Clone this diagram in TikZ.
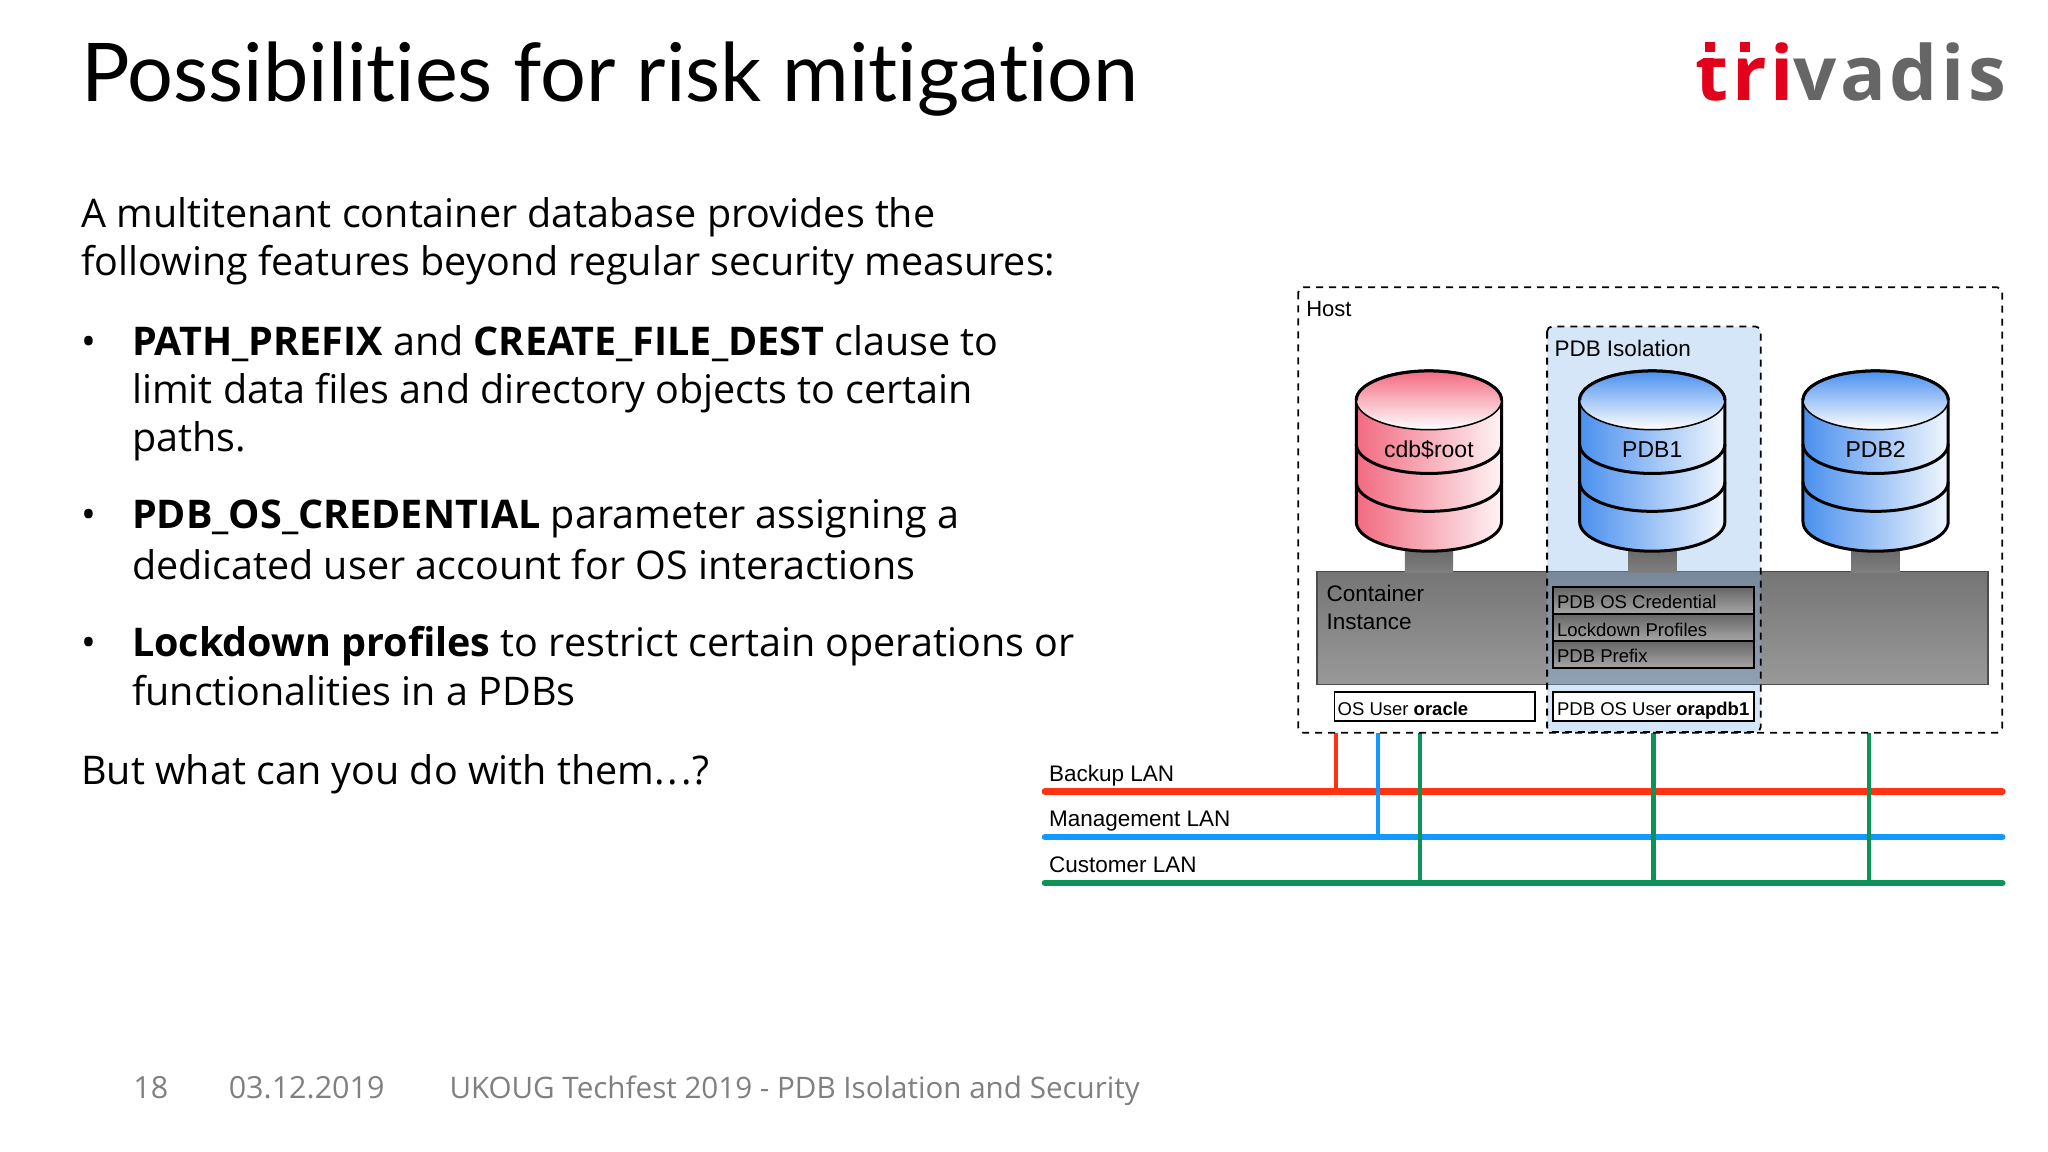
\documentclass[tikz,border=0pt]{standalone}
\usepackage{xcolor}
\usepackage{fontspec}
\usetikzlibrary{positioning,calc}
\setmainfont{Open Sans}
\newfontfamily\titlefont[Ligatures=NoCommon]{Lato}
\newfontfamily\logofont[LetterSpace=4.7]{Open Sans}
\newfontfamily\diagfont{Liberation Sans}
\definecolor{triRed}{HTML}{E2001A}
\definecolor{triGrey}{HTML}{666666}
\definecolor{footGrey}{HTML}{808080}
\definecolor{lanRed}{HTML}{FF3311}
\definecolor{lanBlue}{HTML}{1199FF}
\definecolor{lanGreen}{HTML}{0B9455}
\definecolor{dbRed}{HTML}{F26A80}
\definecolor{dbBlue}{HTML}{4A90EE}
\definecolor{isoBlue}{HTML}{7FB2EE}
\tikzset{
  bodyline/.style={anchor=base west, inner sep=0pt, font=\fontsize{39.5}{48}\selectfont},
  footline/.style={anchor=base west, inner sep=0pt, text=footGrey, font=\fontsize{30.5}{36}\selectfont},
  diagtext/.style={anchor=base west, inner sep=0pt, font=\diagfont\fontsize{22.5}{27}\selectfont},
  smalltext/.style={anchor=base west, inner sep=0pt, font=\diagfont\fontsize{18.5}{23}\selectfont},
  hostbox/.style={draw, line width=1.8pt, dash pattern=on 7pt off 6pt, rounded corners=5pt},
  userbox/.style={draw, fill=white, line width=1.8pt},
  lanline/.style={line width=6.5pt, line cap=round},
  lanstub/.style={line width=4.5pt},
}
% one database drum: centre x, fill colour, node name, label
\newcommand{\dbdrum}[4]{
  \shade[top color=black!62, bottom color=black!50] (#1-18.5,415) rectangle (#1+18.5,438);
  \shade[left color=#2, right color=#2!8!white, draw=black, line width=3pt]
    (#1-55.6,306.5) -- (#1-55.6,399.5) arc[start angle=180, end angle=0, x radius=55.6, y radius=22.5]
    -- (#1+55.6,306.5) arc[start angle=0, end angle=-180, x radius=55.6, y radius=22.5] -- cycle;
  \shade[top color=#2, bottom color=white, draw=black, line width=1.5pt]
    (#1,306.5) ellipse[x radius=55.6, y radius=22.5];
  \draw[line width=3pt] (#1-55.6,306.5) arc[start angle=180, end angle=360, x radius=55.6, y radius=22.5];
  \foreach \bandy in {340,369}
    \draw[line width=3pt] (#1-55.6,\bandy) arc[start angle=180, end angle=0, x radius=55.6, y radius=22.5];
  \node[smalltext, anchor=base, font=\diagfont\fontsize{23}{27}\selectfont] (#3) at (#1,350) {#4};
}
\begin{document}
\begin{tikzpicture}[x=1.3062pt, y=-1.3062pt]
  \useasboundingbox (0,0) rectangle (1568,882);

  \node (title) [anchor=base west, inner sep=0pt, font=\titlefont\fontsize{81}{90}\selectfont] at (62,77.5) {Possibilities for risk mitigation};
  \node (logo) [anchor=base west, inner sep=0pt, font=\logofont\bfseries\fontsize{76}{90}\selectfont] at (1298,77) {\textcolor{triRed}{tri}\textcolor{triGrey}{vadis}};
  % the logo's square marks above t and r
  \fill [triRed] (1305,32) rectangle (1313,40);
  \fill [white] (1300,40) rectangle (1320,44.5);
  \fill [triRed] (1332,32) rectangle (1340,40);

  \node (introa) [bodyline] at (62,174) {A multitenant container database provides the};
  \node (introb) [bodyline] at (62,211) {following features beyond regular security measures:};
  \node (dota) [bodyline] at (62,272) {•};
  \node (itemaa) [bodyline] at (101,272) {\textbf{PATH\_PREFIX} and \textbf{CREATE\_FILE\_DEST} clause to};
  \node (itemab) [bodyline] at (101,309) {limit data files and directory objects to certain};
  \node (itemac) [bodyline] at (101,346) {paths.};
  \node (dotb) [bodyline] at (62,405) {•};
  \node (itemba) [bodyline] at (101,405) {\textbf{PDB\_OS\_CREDENTIAL} parameter assigning a};
  \node (itembb) [bodyline] at (101,444) {dedicated user account for OS interactions};
  \node (dotc) [bodyline] at (62,503) {•};
  \node (itemca) [bodyline] at (101,503) {\textbf{Lockdown profiles} to restrict certain operations or};
  \node (itemcb) [bodyline] at (101,540) {functionalities in a PDBs};
  \node (closing) [bodyline] at (62,601) {But what can you do with them.\kern3pt.\kern3pt.?};

  \node (pageno) [footline] at (102,841) {18};
  \node (date) [footline] at (175,841) {03.12.2019};
  \node (event) [footline, font=\fontsize{29.6}{36}\selectfont] at (344,841) {UKOUG Techfest 2019 - PDB Isolation and Security};

  % LANs
  \coordinate (backupw) at (800,606);
  \coordinate (backupe) at (1533,606);
  \coordinate (mgmtw) at (800,641);
  \coordinate (mgmte) at (1533,641);
  \coordinate (custw) at (800,676);
  \coordinate (custe) at (1533,676);
  \coordinate (hostred) at (1023,561);
  \coordinate (hostblue) at (1055,561);
  \coordinate (hostgreena) at (1087,561);
  \coordinate (hostgreenb) at (1266,561);
  \coordinate (hostgreenc) at (1431,561);
  \draw [lanline, lanRed] (backupw) -- (backupe);
  \draw [lanline, lanBlue] (mgmtw) -- (mgmte);
  \draw [lanstub, lanRed] (hostred) -- (hostred |- backupw);
  \draw [lanstub, lanBlue] (hostblue) -- (hostblue |- mgmtw);
  \draw [lanline, lanGreen] (custw) -- (custe);
  \draw [lanstub, lanGreen] (hostgreena) -- (hostgreena |- custw);
  \draw [lanstub, lanGreen] (hostgreenb) -- (hostgreenb |- custw);
  \draw [lanstub, lanGreen] (hostgreenc) -- (hostgreenc |- custw);
  \node (backup) [diagtext] at (803,598) {Backup LAN};
  \node (mgmt) [diagtext] at (803,633) {Management LAN};
  \node (cust) [diagtext] at (803,668) {Customer LAN};

  % host and container
  \draw [hostbox] (994,220) rectangle (1533,561);
  \node (host) [smalltext, font=\diagfont\fontsize{22}{27}\selectfont] at (1000,242) {Host};
  \shade [top color=black!54, bottom color=black!40, draw=black!70, line width=1.8pt] (1008.6,437.5) rectangle (1522,524);
  \node (instance) [diagtext, align=left, anchor=north west, font=\diagfont\fontsize{22.5}{27.5}\selectfont] at (1015.5,448) {Container\\Instance};

  % isolation band
  \fill [isoBlue, opacity=.33, rounded corners=5pt] (1184.5,250) rectangle (1348,560.5);
  \draw [hostbox] (1184.5,250) rectangle (1348,560.5);
  \node (isolation) [diagtext] at (1190,273) {PDB Isolation};
  \foreach \boxtop/\boxbot/\boxbase/\boxname in {449.7/470/466/PDB OS Credential, 470/491/487/Lockdown Profiles, 491/511.6/507.5/PDB Prefix} {
    \shade [top color=black!60, bottom color=black!35, draw=black, line width=1.8pt] (1189,\boxtop) rectangle (1343,\boxbot);
    \node [smalltext] at (1192,\boxbase) {\boxname};
  }
  \draw [userbox] (1021.7,530) rectangle (1175,551.8);
  \draw [userbox] (1189,530) rectangle (1343,551.8);
  \node (osuser) [smalltext] at (1024,547.5) {OS User \textbf{oracle}};
  \node (pdbuser) [smalltext] at (1192,547.5) {PDB OS User \textbf{orapdb1}};

  % databases
  \dbdrum{1094}{dbRed}{rootdb}{cdb\$root}
  \dbdrum{1265}{dbBlue}{pdbone}{PDB1}
  \dbdrum{1436}{dbBlue}{pdbtwo}{PDB2}
\end{tikzpicture}
\end{document}
